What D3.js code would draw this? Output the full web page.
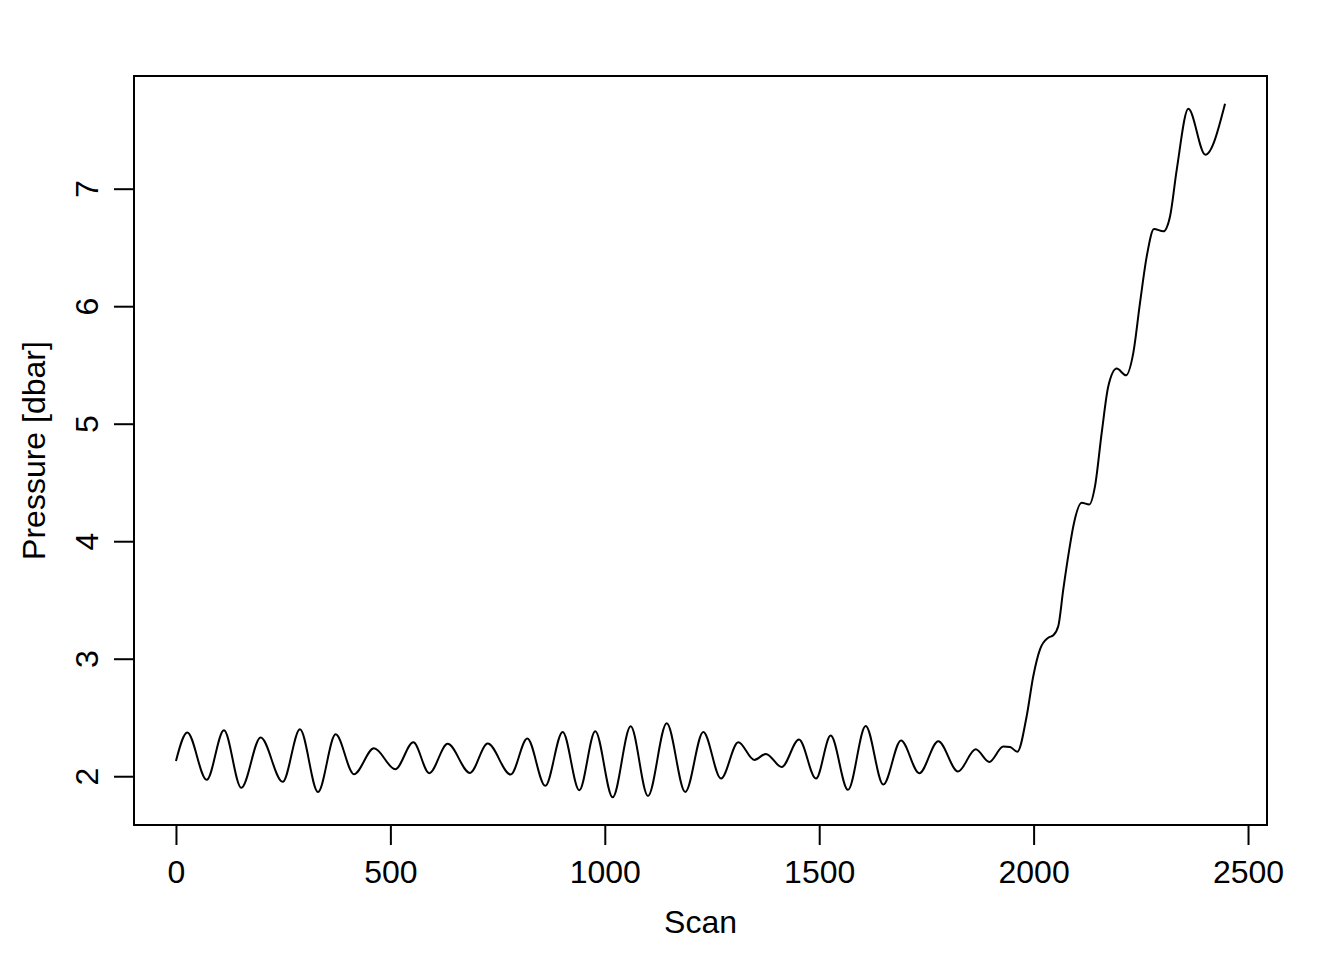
<!DOCTYPE html>
<html>
<head>
<meta charset="utf-8">
<script src="https://cdn.jsdelivr.net/npm/d3@7"></script>
<style>
  html, body { margin: 0; padding: 0; background: #fff; }
  svg { display: block; }
  text { font-family: "Liberation Sans", Arial, Helvetica, sans-serif; fill: #000; }
</style>
</head>
<body>
<svg id="chart" width="1344" height="960"></svg>
<script>
// Scan index of each read point (extrema and curve points)
const scans = [0, 26.4, 71.6, 111.9, 152.3, 197.5, 248.8, 289.2, 331.2, 372.4,
  415.1, 461.8, 511.4, 553.4, 590.7, 633.6, 685.6, 726.9, 780.5, 819.3,
  861.2, 901.8, 940.5, 977.8, 1018.4, 1060.4, 1100.7, 1144.4, 1187.7, 1229.7,
  1271, 1311.3, 1348.6, 1375.9, 1412.5, 1452.9, 1492.5, 1526.8, 1567.2, 1608.4,
  1649.5, 1690.8, 1733.4, 1777.7, 1823.7, 1864.9, 1896.7, 1929.3, 1944.9, 1962,
  1983.9, 1999.3, 2014.9, 2034.3, 2045.9, 2057.6, 2069.2, 2083.2, 2092.6, 2112.2,
  2129.9, 2143.2, 2158.8, 2174.2, 2193.8, 2215.5, 2232.5, 2248.1, 2263.8, 2280.8,
  2302.5, 2318.1, 2333.8, 2360.8, 2400.4, 2446.4];
// Pressure [dbar] at those scans
const pressures = [2.130, 2.372, 1.969, 2.391, 1.901, 2.329, 1.952, 2.400, 1.866, 2.357,
  2.017, 2.238, 2.060, 2.289, 2.026, 2.276, 2.028, 2.278, 2.014, 2.321,
  1.918, 2.377, 1.881, 2.383, 1.821, 2.425, 1.832, 2.451, 1.866, 2.377,
  1.980, 2.289, 2.139, 2.190, 2.079, 2.312, 1.980, 2.346, 1.884, 2.428,
  1.929, 2.304, 2.026, 2.298, 2.040, 2.230, 2.122, 2.253, 2.249, 2.208,
  2.513, 2.853, 3.080, 3.179, 3.199, 3.278, 3.590, 3.930, 4.128, 4.327,
  4.313, 4.469, 4.923, 5.319, 5.469, 5.412, 5.603, 6.028, 6.424, 6.657,
  6.637, 6.764, 7.162, 7.680, 7.289, 7.723];
const xTicks = [0, 500, 1000, 1500, 2000, 2500];
const yTicks = [2, 3, 4, 5, 6, 7];
const xLabel = "Scan";
const yLabel = "Pressure [dbar]";

const data = scans.map((s, i) => ({ s, p: pressures[i] }));

const mLeft = 134, mRight = 1267, mTop = 76, mBottom = 825;
const pad = ([a, b]) => { const r = b - a; return [a - 0.04 * r, b + 0.04 * r]; };

const x = d3.scaleLinear().domain(pad(d3.extent(scans))).range([mLeft, mRight]);
const y = d3.scaleLinear().domain(pad(d3.extent(pressures))).range([mBottom, mTop]);

const svg = d3.select("#chart");
const fs = 32;

// data line
svg.append("path")
  .datum(data)
  .attr("fill", "none")
  .attr("stroke", "#000")
  .attr("stroke-width", 2)
  .attr("d", d3.line().x(d => x(d.s)).y(d => y(d.p)).curve(d3.curveMonotoneX));

// box
svg.append("rect")
  .attr("x", mLeft).attr("y", mTop)
  .attr("width", mRight - mLeft).attr("height", mBottom - mTop)
  .attr("fill", "none").attr("stroke", "#000").attr("stroke-width", 2);

// x axis
const xAxis = d3.axisBottom(x).tickValues(xTicks).tickSize(20).tickPadding(15).tickFormat(d3.format("d"));
const gx = svg.append("g").attr("transform", `translate(0,${mBottom})`).call(xAxis);
gx.select(".domain").attr("d", `M${x(xTicks[0])},0H${x(xTicks[xTicks.length - 1])}`).attr("stroke-width", 2);
gx.selectAll(".tick line").attr("stroke-width", 2);
gx.selectAll(".tick text").attr("font-size", fs).attr("font-family", "Liberation Sans, Arial, sans-serif");

// y axis
const yAxis = d3.axisLeft(y).tickValues(yTicks).tickSize(20).tickPadding(0).tickFormat(d3.format("d"));
const gy = svg.append("g").attr("transform", `translate(${mLeft},0)`).call(yAxis);
gy.select(".domain").attr("d", `M0,${y(yTicks[0])}V${y(yTicks[yTicks.length - 1])}`).attr("stroke-width", 2);
gy.selectAll(".tick line").attr("stroke-width", 2);
gy.selectAll(".tick text")
  .attr("font-size", fs).attr("font-family", "Liberation Sans, Arial, sans-serif")
  .attr("x", null).attr("dy", null)
  .attr("text-anchor", "middle")
  .attr("transform", "translate(-36,0) rotate(-90)");

// axis titles
svg.append("text")
  .attr("x", (mLeft + mRight) / 2).attr("y", 933)
  .attr("text-anchor", "middle").attr("font-size", fs)
  .text(xLabel);
svg.append("text")
  .attr("transform", `translate(45,${(mTop + mBottom) / 2}) rotate(-90)`)
  .attr("text-anchor", "middle").attr("font-size", fs)
  .text(yLabel);
</script>
</body>
</html>
